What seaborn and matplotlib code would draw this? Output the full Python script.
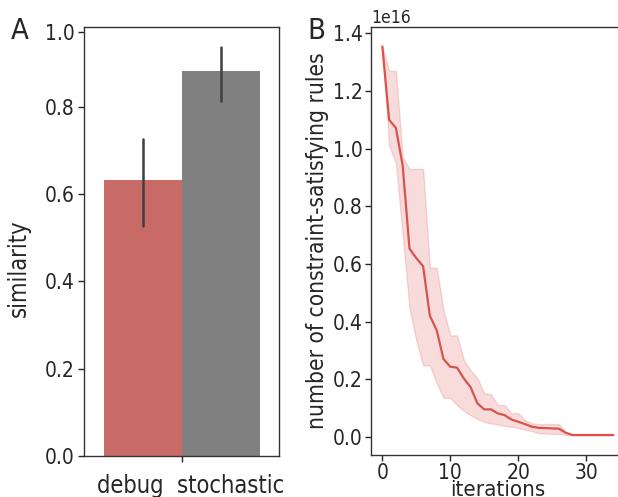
import matplotlib
matplotlib.use("Agg")
import matplotlib.pyplot as plt
import matplotlib.transforms as mtransforms
import seaborn as sns
import pandas as pd
import numpy as np

# ---- Panel A data ----
conditions = ["debug", "stochastic"]
sim_mean = [0.632, 0.882]
sim_lo = [0.527, 0.8135]
sim_hi = [0.726, 0.938]
bar_colors = ["#c86b67", "#7f807f"]
xcat_label = "debug  stochastic"

# ---- Panel B data (units of 1e16) ----
iterations = list(range(35))
rules_mean = [1.355, 1.10, 1.072, 0.94, 0.653, 0.62, 0.592, 0.42, 0.37, 0.27,
              0.243, 0.24, 0.202, 0.172, 0.116, 0.095, 0.095, 0.081, 0.075, 0.06,
              0.052, 0.044, 0.035, 0.031, 0.030, 0.029, 0.028, 0.014, 0.006, 0.006,
              0.006, 0.006, 0.006, 0.006, 0.006]
rules_hi = [1.355, 1.27, 1.27, 0.97, 0.93, 0.93, 0.93, 0.587, 0.587, 0.44,
            0.352, 0.352, 0.266, 0.231, 0.203, 0.151, 0.148, 0.11, 0.11, 0.082,
            0.082, 0.058, 0.047, 0.044, 0.044, 0.044, 0.044, 0.015, 0.007, 0.007,
            0.007, 0.007, 0.007, 0.007, 0.007]
rules_lo = [1.355, 1.01, 0.95, 0.70, 0.445, 0.335, 0.248, 0.248, 0.186, 0.135,
            0.135, 0.11, 0.09, 0.075, 0.062, 0.052, 0.046, 0.043, 0.037, 0.035,
            0.03, 0.025, 0.02, 0.012, 0.011, 0.010, 0.010, 0.006, 0.005, 0.005,
            0.005, 0.005, 0.005, 0.005, 0.005]
line_color = "#d9534c"

sns.set_style("white")
plt.rcParams["font.family"] = ["DejaVu Sans"]
plt.rcParams["font.stretch"] = "condensed"
plt.rcParams["axes.edgecolor"] = "#333333"
plt.rcParams["axes.linewidth"] = 1.0

fig = plt.figure(figsize=(6.18, 4.97), dpi=100)
axA = fig.add_axes([0.136, 0.083, 0.316, 0.8627])
axB = fig.add_axes([0.600, 0.085, 0.411, 0.8607])

# Panel A: long-form with (lo, mean, hi); median + 100% interval reproduces bar & CI
dfA = pd.DataFrame({
    "x": [xcat_label] * 6,
    "cond": [c for c in conditions for _ in range(3)],
    "similarity": [v for i in range(2) for v in (sim_lo[i], sim_mean[i], sim_hi[i])],
})
sns.barplot(data=dfA, x="x", y="similarity", hue="cond", hue_order=conditions,
            palette=bar_colors, saturation=1, estimator="median",
            errorbar=("pi", 100), err_kws={"color": "#3f3f3f", "linewidth": 1.8},
            linewidth=0, legend=False, ax=axA)
axA.set_ylim(0, 0.983)
axA.set_xlim(-0.5, 0.5)
axA.set_yticks([0.0, 0.2, 0.4, 0.6, 0.8, 0.9725])
axA.set_yticklabels(["0.0", "0.2", "0.4", "0.6", "0.8", "1.0"])
axA.yaxis.get_major_ticks()[-1].tick1line.set_visible(False)
axA.set_xlabel("")
axA.set_ylabel("similarity", fontsize=17)
axA.yaxis.set_label_coords(-0.275, 0.438)
axA.tick_params(axis="y", left=True, length=4, width=1, labelsize=15, pad=3)
axA.tick_params(axis="x", bottom=True, length=4, width=1, labelsize=17, pad=9)
shift = mtransforms.ScaledTranslation(9 / 100, 0, fig.dpi_scale_trans)
for lbl in axA.get_xticklabels():
    lbl.set_transform(lbl.get_transform() + shift)
for s in axA.spines.values():
    s.set_visible(True)

# Panel B
dfB = pd.DataFrame({
    "iterations": [it for it in iterations for _ in range(3)],
    "rules": [v * 1e16 for i in range(len(iterations))
              for v in (rules_lo[i], rules_mean[i], rules_hi[i])],
})
sns.lineplot(data=dfB, x="iterations", y="rules", estimator="median",
             errorbar=("pi", 100), color=line_color, linewidth=1.6,
             err_kws={"alpha": 0.2}, ax=axB)
axB.set_xticks([0, 10, 20, 30])
axB.set_yticks(np.array([0.0, 0.2, 0.4, 0.6, 0.8, 1.0, 1.2, 1.4]) * 1e16)
axB.set_xlabel("iterations", fontsize=16, labelpad=-2)
axB.set_ylabel("number of constraint-satisfying rules", fontsize=16.3)
axB.yaxis.set_label_coords(-0.165, 0.5)
axB.tick_params(axis="both", left=True, bottom=True, length=4, width=1, labelsize=15, pad=2)
axB.yaxis.get_offset_text().set_fontsize(12.5)
for s in axB.spines.values():
    s.set_visible(True)

fig.text(0.018, 0.922, "A", fontsize=21)
fig.text(0.497, 0.922, "B", fontsize=21)

fig.savefig("out.png", dpi=100)
